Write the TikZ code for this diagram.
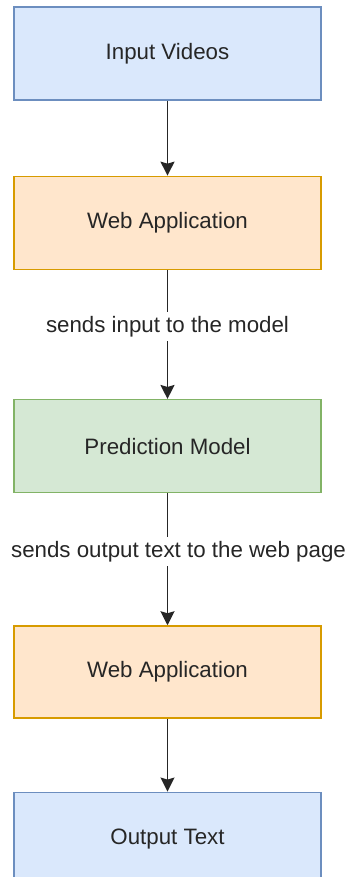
\documentclass[tikz,border=0pt]{standalone}
\usepackage{fontspec}
\setsansfont{Liberation Sans}
\usepackage{xcolor}
\usetikzlibrary{positioning,arrows.meta}

\definecolor{ioFill}{HTML}{DAE8FC}
\definecolor{ioLine}{HTML}{6C8EBF}
\definecolor{appFill}{HTML}{FFE6CC}
\definecolor{appLine}{HTML}{D79B00}
\definecolor{modelFill}{HTML}{D5E8D4}
\definecolor{modelLine}{HTML}{82B366}

\begin{document}
\begin{tikzpicture}[
    font=\sffamily\fontsize{22.3}{26}\selectfont,
    % --- generic stage box ---
    stage/.style={draw, line width=1.3pt, minimum width=307pt, minimum height=93pt,
                  inner sep=0pt, align=center, text=black!85},
    io/.style={stage, draw=ioLine, fill=ioFill},
    webapp/.style={stage, draw=appLine, fill=appFill},
    model/.style={stage, draw=modelLine, fill=modelFill},
    flow/.style={-{Stealth[length=14pt,width=14pt,inset=2pt]}, line width=1.6pt, black!85},
    edgelabel/.style={fill=white, inner sep=4pt, text=black!85},
  ]
  \useasboundingbox (0,0) rectangle (350pt,-877pt);
  \clip (0,0) rectangle (350pt,-877pt);

  % ---- pipeline stages ---------------------------------------------------
  \node[io] (input) at (167.5pt,-53.5pt) {Input Videos};
  \node[webapp, below=75pt of input] (webin) {Web Application};
  \node[model, below=129pt of webin] (predict) {Prediction Model};
  \node[webapp, below=132pt of predict, minimum height=92pt] (webout) {Web Application};
  \node[io, below=73pt of webout] (output) {Output Text};

  % ---- connectors --------------------------------------------------------
  \draw[flow] (input) -- (webin);
  \draw[flow] (webin) -- node[edgelabel, pos=0.44] {sends input to the model} (predict);
  \draw[flow] (predict) -- node[edgelabel, pos=0.44, xshift=11pt] {sends output text to the web page} (webout);
  \draw[flow] (webout) -- (output);

\end{tikzpicture}
\end{document}
